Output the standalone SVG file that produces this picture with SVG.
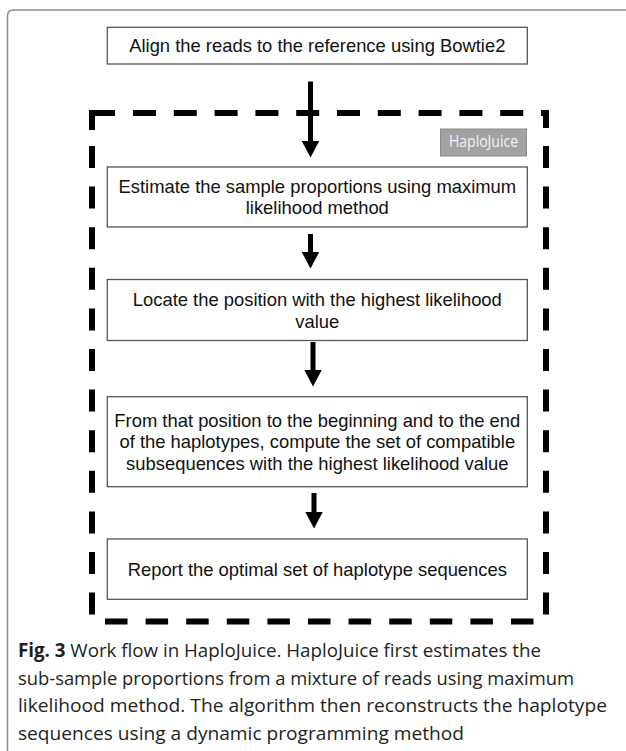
<svg xmlns="http://www.w3.org/2000/svg" width="626" height="751" viewBox="0 0 626 751">
<style>
.frame{fill:none;stroke:#8a8a8a;stroke-width:1.5}
.box{fill:#fff;stroke:#555;stroke-width:1.3}
.t{font-family:"Liberation Sans",Arial,sans-serif;font-size:18.4px;fill:#111;text-anchor:middle}
.dash{fill:none;stroke:#000;stroke-width:6;stroke-linejoin:miter}
.conn{stroke:#000;stroke-width:5;fill:none}
.cap{font-family:"Open Sans","Noto Sans",sans-serif;font-size:19px;fill:#231f20}
.tag{fill:#a2a2a2;stroke:#8c8c8c;stroke-width:1}
.tagt{font-family:"Open Sans","Noto Sans",sans-serif;font-size:16px;fill:#f2f2f2;text-anchor:middle}
</style>
<defs>
<marker id="ah" markerUnits="userSpaceOnUse" viewBox="0 0 17 18" markerWidth="17" markerHeight="18" refX="0.5" refY="9" orient="auto">
<path d="M0,0 L17,9 L0,18 Z" fill="#000"/>
</marker>
</defs>
<rect width="626" height="751" fill="#fff"/>
<path class="frame" d="M7.5,751 L7.5,16 Q7.5,10 13.5,10 L626,10"/>
<g id="container">
<path class="dash" d="M92,130 L92,113 L115,113 M541,113 L546,113 L546,128"/>
<line class="dash" x1="133" y1="113" x2="541" y2="113" stroke-dasharray="23 17.8"/>
<line class="dash" x1="92" y1="146" x2="92" y2="615" stroke-dasharray="22 18.6"/>
<line class="dash" x1="546" y1="146" x2="546" y2="615" stroke-dasharray="22 18.6"/>
<line class="dash" x1="105" y1="621.5" x2="534" y2="621.5" stroke-dasharray="22.5 18.1"/>
</g>
<g id="haplojuice-label">
<rect class="tag" x="440.5" y="129" width="86" height="27"/>
<text class="tagt" x="483.5" y="147" textLength="69" lengthAdjust="spacingAndGlyphs">HaploJuice</text>
</g>
<g id="n1">
<rect class="box" x="107.3" y="27.3" width="420" height="36.7"/>
<text class="t" x="317.3" y="52">Align the reads to the reference using Bowtie2</text>
</g>
<g id="n2">
<rect class="box" x="107.3" y="167" width="420" height="60"/>
<text class="t" x="317.3" y="193">Estimate the sample proportions using maximum</text>
<text class="t" x="317.3" y="214">likelihood method</text>
</g>
<g id="n3">
<rect class="box" x="107.3" y="279.5" width="420" height="61"/>
<text class="t" x="317.3" y="306">Locate the position with the highest likelihood</text>
<text class="t" x="317.3" y="327.5">value</text>
</g>
<g id="n4">
<rect class="box" x="107.3" y="396.7" width="420" height="90"/>
<text class="t" x="317.3" y="426.5">From that position to the beginning and to the end</text>
<text class="t" x="317.3" y="448">of the haplotypes, compute the set of compatible</text>
<text class="t" x="317.3" y="470">subsequences with the highest likelihood value</text>
</g>
<g id="n5">
<rect class="box" x="107.3" y="539" width="420" height="60.3"/>
<text class="t" x="317.3" y="576">Report the optimal set of haplotype sequences</text>
</g>
<g id="connectors">
<line class="conn" x1="310.5" y1="81.5" x2="310.5" y2="141" marker-end="url(#ah)"/>
<line class="conn" x1="310.5" y1="234" x2="310.5" y2="252" marker-end="url(#ah)"/>
<line class="conn" x1="313" y1="342" x2="313" y2="370" marker-end="url(#ah)"/>
<line class="conn" x1="314" y1="493" x2="314" y2="512" marker-end="url(#ah)"/>
</g>
<g id="caption">
<text class="cap" x="18" y="657" textLength="523" lengthAdjust="spacingAndGlyphs"><tspan font-weight="bold">Fig. 3</tspan> Work flow in HaploJuice. HaploJuice first estimates the</text>
<text class="cap" x="18" y="684.5" textLength="556" lengthAdjust="spacingAndGlyphs">sub-sample proportions from a mixture of reads using maximum</text>
<text class="cap" x="18" y="712" textLength="589" lengthAdjust="spacingAndGlyphs">likelihood method. The algorithm then reconstructs the haplotype</text>
<text class="cap" x="18" y="739.5" textLength="446" lengthAdjust="spacingAndGlyphs">sequences using a dynamic programming method</text>
</g>
</svg>
